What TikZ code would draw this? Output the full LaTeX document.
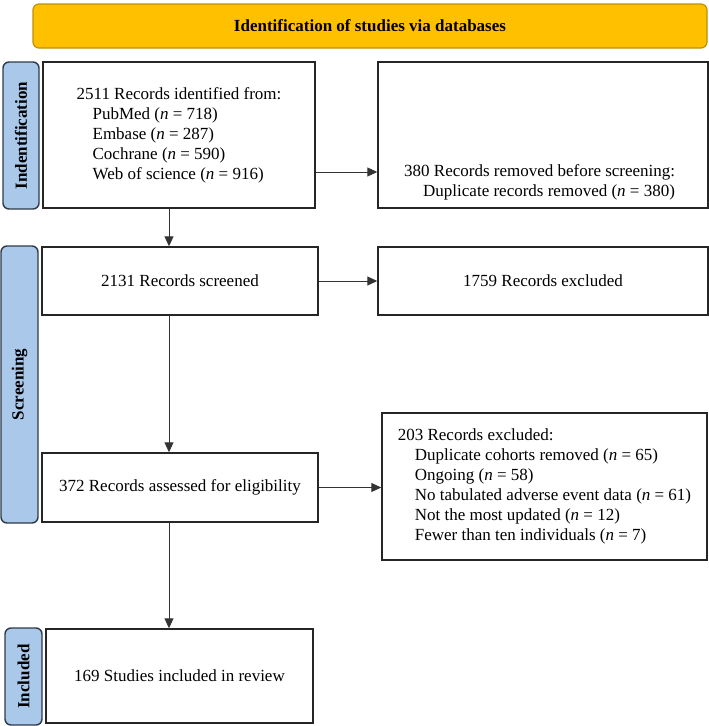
\documentclass[tikz,border=0pt]{standalone}
\usepackage{fontspec}
\setmainfont{Liberation Serif}
\usetikzlibrary{arrows.meta}

\definecolor{headgold}{HTML}{FFC000}
\definecolor{headedge}{HTML}{C09000}
\definecolor{phaseblue}{HTML}{A9C8EA}
\definecolor{phaseedge}{HTML}{2E3A48}

\tikzset{
  box/.style={draw=black!85, line width=1.4pt, inner sep=0pt, align=left},
  phase/.style={draw=phaseedge, fill=phaseblue, line width=1.4pt, rounded corners=6pt,
                rotate=90, font=\fontsize{17}{20}\selectfont\bfseries, inner sep=0pt},
  arr/.style={draw=black!80, line width=0.9pt, -{Triangle[length=10pt,width=9pt]}},
}

\begin{document}
\begin{tikzpicture}[x=1pt,y=-1pt,font=\fontsize{17}{20}\selectfont]

\useasboundingbox (0,0) rectangle (709,726);
%        \draw[style=help lines, step=50] (0,0) grid (709,726);

% header
\node[draw=headedge, fill=headgold, line width=1.2pt, rounded corners=6pt,
      minimum width=674pt, minimum height=44pt,
      font=\fontsize{17}{20}\selectfont\bfseries] (head) at (370,26)
      {Identification of studies via databases};

% phase labels
\node[phase, minimum width=147pt, minimum height=36pt] (phid) at (21,135.5) {Indentification};
\node[phase, minimum width=277pt, minimum height=37pt] (phscr) at (19.5,384.5) {Screening};
\node[phase, minimum width=97pt, minimum height=37pt] (phinc) at (23.5,676.5) {Included};

% boxes
\node[box, minimum width=272pt, minimum height=146pt] (records) at (179,135)
  {2511 Records identified from:\\
   \hspace*{16pt}PubMed (\textit{n} = 718)\\
   \hspace*{16pt}Embase (\textit{n} = 287)\\
   \hspace*{16pt}Cochrane (\textit{n} = 590)\\
   \hspace*{16pt}Web of science (\textit{n} = 916)};
\node[box, minimum width=330pt, minimum height=146pt] (removed) at (543,135) {};
\node[anchor=west, align=left, inner sep=0pt] (removedtxt) at (404,182)
  {380 Records removed before screening:\\
   \hspace*{19pt}Duplicate records removed (\textit{n} = 380)};

\node[box, minimum width=276pt, minimum height=68pt] (screened) at (180,281) {2131 Records screened};
\node[box, minimum width=330pt, minimum height=68pt] (excluded) at (543,281) {1759 Records excluded};

\node[box, minimum width=276pt, minimum height=69pt] (assessed) at (180,487.5) {372 Records assessed for eligibility};
\node[box, minimum width=325pt, minimum height=147pt] (reasons) at (544.5,486.5)
  {203 Records excluded:\\
   \hspace*{17pt}Duplicate cohorts removed (\textit{n} = 65)\\
   \hspace*{17pt}Ongoing (\textit{n} = 58)\\
   \hspace*{17pt}No tabulated adverse event data (\textit{n} = 61)\\
   \hspace*{17pt}Not the most updated (\textit{n} = 12)\\
   \hspace*{17pt}Fewer than ten individuals (\textit{n} = 7)};

\node[box, minimum width=267pt, minimum height=94pt] (included) at (179.5,676) {169 Studies included in review};

% arrows
\coordinate (spine) at (169,0);
\coordinate (remrow) at (0,172);

\draw[arr] (records.south -| spine) -- (screened.north -| spine);
\draw[arr] (screened.south -| spine) -- (assessed.north -| spine);
\draw[arr] (assessed.south -| spine) -- (included.north -| spine);

\draw[arr] (records.east |- remrow) -- (removed.west |- remrow);
\draw[arr] (screened.east) -- (excluded.west);
\draw[arr] (assessed.east) -- (reasons.west |- assessed.east);

\end{tikzpicture}
\end{document}
